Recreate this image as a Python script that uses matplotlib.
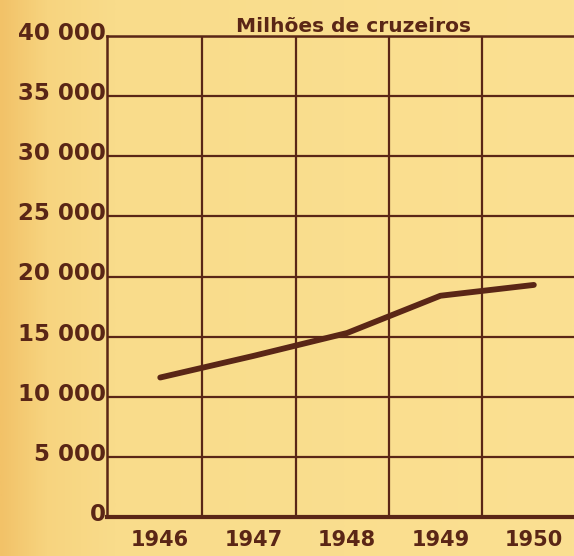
import matplotlib.pyplot as plt
import matplotlib.transforms as mtransforms
from matplotlib.colors import LinearSegmentedColormap
import numpy as np

years = [1946, 1947, 1948, 1949, 1950]
values = [11600, 13400, 15300, 18400, 19300]
y_ticks = [0, 5000, 10000, 15000, 20000, 25000, 30000, 35000, 40000]
y_labels = ["0", "5 000", "10 000", "15 000", "20 000", "25 000", "30 000", "35 000", "40 000"]
title = "Milhões de cruzeiros"

INK = "#5a2616"
BG = "#fadf8f"

fig = plt.figure(figsize=(5.74, 5.56), dpi=100)
fig.patch.set_facecolor(BG)

# orange tint along the left edge, like the scanned page
bg_cmap = LinearSegmentedColormap.from_list(
    "bg", [(0, "#f2c268"), (0.08, "#f7d47f"), (0.2, "#f9dc8b"), (1, "#fbe092")])
bg_ax = fig.add_axes([0, 0, 1, 1], zorder=-1)
bg_ax.imshow(np.linspace(0, 1, 512)[None, :], aspect="auto", extent=[0, 1, 0, 1], cmap=bg_cmap)
bg_ax.axis("off")

ax = fig.add_axes([107 / 574, 1 - 517 / 556, 1 - 107 / 574, (517 - 36) / 556])
ax.set_facecolor("none")

ax.plot(years, values, color=INK, lw=4.2, solid_capstyle="round", solid_joinstyle="round", zorder=3)

ax.set_xlim(1945.43, 1950.43)
ax.set_ylim(0, 40000)

ax.set_yticks(y_ticks)
ax.set_yticklabels(y_labels)
ax.set_xticks(years)
ax.set_xticklabels([str(y) for y in years])
ax.set_xticks([y + 0.45 for y in years[:-1]], minor=True)

ax.grid(axis="y", color=INK, lw=1.6)
ax.grid(axis="x", which="minor", color=INK, lw=1.6)
ax.grid(axis="x", which="major", visible=False)
ax.tick_params(which="both", length=0)
ax.tick_params(axis="y", pad=1, labelsize=16.5, labelcolor=INK)
ax.tick_params(axis="x", pad=9, labelsize=15, labelcolor=INK)
for lbl in ax.get_yticklabels() + ax.get_xticklabels():
    lbl.set_fontweight("bold")

offset = mtransforms.ScaledTranslation(0, 5 / 100, fig.dpi_scale_trans)
for lbl in ax.get_yticklabels():
    lbl.set_transform(lbl.get_transform() + offset)

for side in ["left", "top"]:
    ax.spines[side].set_color(INK)
    ax.spines[side].set_linewidth(1.8)
ax.spines["bottom"].set_color(INK)
ax.spines["bottom"].set_linewidth(3)
ax.spines["right"].set_visible(False)

ax.text(1948.07, 40000, title, ha="center", va="bottom", fontsize=14.5,
        fontweight="bold", color=INK)

fig.savefig("out.png", dpi=100, facecolor=BG)
